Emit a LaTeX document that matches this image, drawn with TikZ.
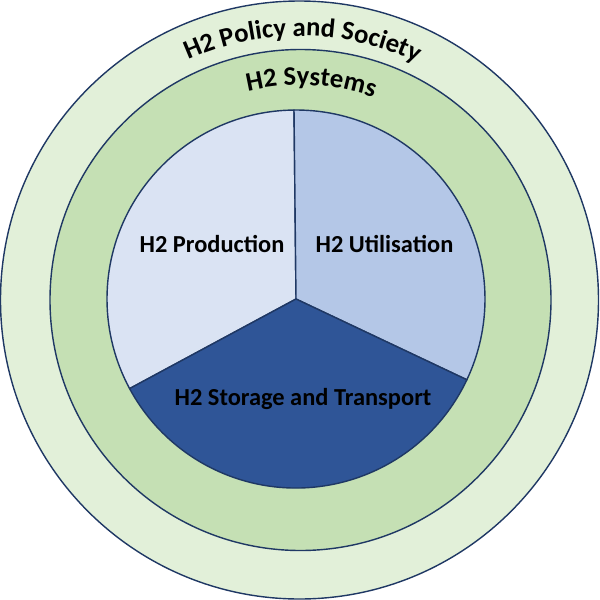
\documentclass[tikz,border=0pt]{standalone}
\usepackage{fontspec}
\setmainfont{Carlito}
\usetikzlibrary{decorations.text}
\definecolor{ringline}{HTML}{1F3864}
\definecolor{policygreen}{HTML}{E2F0D9}
\definecolor{systemsgreen}{HTML}{C5E0B4}
\definecolor{prodblue}{HTML}{DAE3F3}
\definecolor{utilblue}{HTML}{B4C7E7}
\definecolor{storeblue}{HTML}{2F5597}
\tikzset{
  ring/.style={circle,draw=ringline,line width=0.8pt,inner sep=0pt},
  sector/.style={draw=ringline,line width=0.8pt,line join=round},
  lbl/.style={font=\fontsize{13.9}{15}\selectfont\bfseries,text=black},
  arclbl/.style={decoration={text along path,
    text={|\fontsize{15.2}{16}\selectfont\bfseries|#1}},decorate}
}
\begin{document}
\begin{tikzpicture}
\useasboundingbox (0cm,0cm) rectangle (12cm,-12cm);
\node[ring,fill=policygreen,minimum size=11.96cm] (policy) at (5.99cm,-6cm) {};
\node[ring,fill=systemsgreen,minimum size=10.02cm] (systems) at (6.01cm,-6cm) {};
\coordinate (hub) at (5.92cm,-5.98cm);
% three sectors of the core, radius 3.78cm
\filldraw[sector,fill=prodblue] (hub) -- ++(90.6:3.78cm) arc (90.6:208.3:3.78cm) -- cycle;
\filldraw[sector,fill=utilblue] (hub) -- ++(90.6:3.78cm) arc (90.6:-25.3:3.78cm) -- cycle;
\filldraw[sector,fill=storeblue] (hub) -- ++(-25.3:3.78cm) arc (-25.3:-151.7:3.78cm) -- cycle;
\node[lbl] (production) at (4.24cm,-4.88cm) {H2 Production};
\node[lbl] (utilisation) at (7.69cm,-4.88cm) {H2 Utilisation};
\node[lbl] (storage) at (6.06cm,-7.98cm) {H2 Storage and Transport};
% curved labels
\path[arclbl={H2 Policy and Society}] (6cm,-6.16cm) ++(114.3:5.44cm) arc (114.3:40:5.44cm);
\path[arclbl={H2 Systems}] (6cm,-6.16cm) ++(103.5:4.46cm) arc (103.5:50:4.46cm);
\end{tikzpicture}
\end{document}
